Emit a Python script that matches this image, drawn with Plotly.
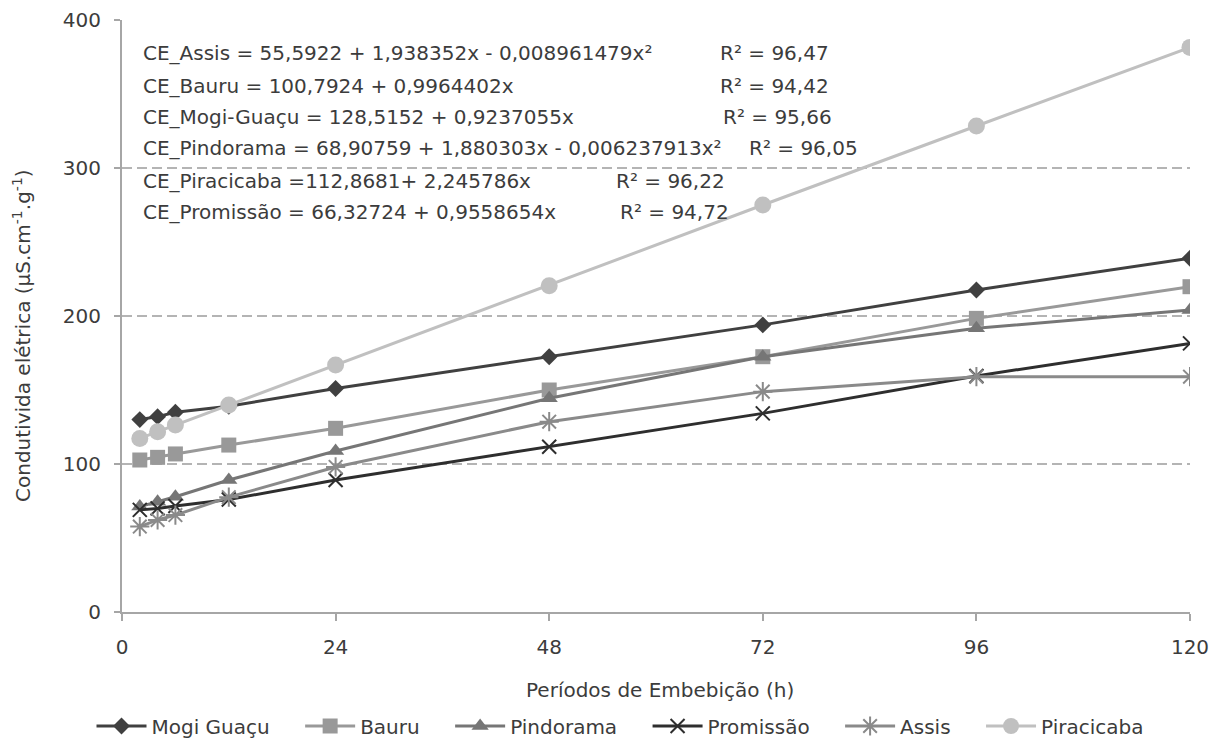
import plotly.graph_objects as go

hours = [2, 4, 6, 12, 24, 48, 72, 96, 120]
mogi_guacu = [130, 132, 135, 139, 151, 172.5, 194, 217.6, 239]
bauru = [102.7, 104.5, 106.8, 112.8, 124.1, 150, 172.5, 198.4, 219.8]
pindorama = [71.2, 74.5, 77.9, 89.2, 108.8, 144.4, 172.5, 191.7, 204]
promissao = [69, 70, 71.6, 76, 89.2, 111.7, 134.2, 159.5, 181.5]
assis = [57.7, 62.2, 65.5, 77.6, 98, 128.6, 148.9, 159, 159]
piracicaba = [117.3, 121.8, 126.3, 139.9, 166.9, 220.5, 275, 328.4, 381.5]

x_ticks = [0, 24, 48, 72, 96, 120]
y_ticks = [0, 100, 200, 300, 400]

series = [
    ("Mogi Guaçu", mogi_guacu, "#404040", "diamond", 13),
    ("Bauru", bauru, "#999999", "square", 15),
    ("Pindorama", pindorama, "#767676", "triangle-up", 15),
    ("Promissão", promissao, "#2e2e2e", "x-thin-open", 14),
    ("Assis", assis, "#8a8a8a", "asterisk-open", 16),
    ("Piracicaba", piracicaba, "#c0c0c0", "circle", 17),
]

equations = [
    "CE_Assis = 55,5922 + 1,938352x - 0,008961479x²",
    "CE_Bauru = 100,7924 + 0,9964402x",
    "CE_Mogi-Guaçu = 128,5152 + 0,9237055x",
    "CE_Pindorama = 68,90759 + 1,880303x - 0,006237913x²",
    "CE_Piracicaba =112,8681+ 2,245786x",
    "CE_Promissão = 66,32724 + 0,9558654x",
]
r2_labels = ["R² = 96,47", "R² = 94,42", "R² = 95,66", "R² = 96,05", "R² = 96,22", "R² = 94,72"]
r2_px = [718, 718, 721, 747, 614, 618]
line_py = [53, 86, 117, 148, 181, 212]

FONT = "DejaVu Sans, Verdana, sans-serif"
TXT = "#3c3c3c"
W, H = 1228, 740
L, R, T, B = 122, 1190, 20, 612


def px_x(p):
    return (p - L) / (R - L)


def px_y(p):
    return (B - p) / (B - T)


fig = go.Figure()
pad = "\u00a0" * 4
for i, (name, vals, color, sym, size) in enumerate(series):
    mk = dict(symbol=sym, size=size, color=color)
    if "open" in sym:
        mk["line"] = dict(color=color, width=2)
    else:
        mk["line"] = dict(width=0)
    label = name + (pad if i < len(series) - 1 else "")
    fig.add_trace(go.Scatter(x=hours, y=vals, name=label, mode="lines+markers",
                             line=dict(color=color, width=3), marker=mk))

annotations = []
for eq, r2, rx, py in zip(equations, r2_labels, r2_px, line_py):
    annotations.append(dict(text=eq, x=px_x(141), y=px_y(py), xref="paper", yref="paper",
                            xanchor="left", yanchor="middle", showarrow=False,
                            font=dict(size=20, color=TXT, family=FONT)))
    annotations.append(dict(text=r2, x=px_x(rx), y=px_y(py), xref="paper", yref="paper",
                            xanchor="left", yanchor="middle", showarrow=False,
                            font=dict(size=20, color=TXT, family=FONT)))

annotations.append(dict(text="Períodos de Embebição (h)", x=px_x(660), y=px_y(690),
                        xref="paper", yref="paper", xanchor="center", yanchor="middle",
                        showarrow=False, font=dict(size=20, color=TXT, family=FONT)))
annotations.append(dict(text="Condutivida elétrica (µS.cm<sup>-1</sup>.g<sup>-1</sup>)",
                        x=px_x(22), y=px_y(336), xref="paper", yref="paper",
                        xanchor="center", yanchor="middle", textangle=-90,
                        showarrow=False, font=dict(size=20, color=TXT, family=FONT)))

fig.update_layout(
    width=W, height=H,
    margin=dict(l=L, r=W - R, t=T, b=H - B, autoexpand=False),
    plot_bgcolor="white", paper_bgcolor="white",
    font=dict(family=FONT, size=20, color=TXT),
    xaxis=dict(range=[0, 120], tickvals=x_ticks, showgrid=False,
               showline=True, linecolor="#a6a6a6", linewidth=2, ticks="outside",
               tickcolor="#a6a6a6", ticklen=7, tickwidth=1.5, zeroline=False,
               ticklabelstandoff=9, tickfont=dict(size=20, color=TXT)),
    yaxis=dict(range=[0, 400], tickvals=y_ticks, showgrid=True,
               gridcolor="#b4b4b4", griddash="10px,5px", gridwidth=2,
               showline=True, linecolor="#a6a6a6", linewidth=2, ticks="outside",
               tickcolor="#a6a6a6", ticklen=6, tickwidth=1.5, zeroline=False,
               ticklabelstandoff=9, tickfont=dict(size=20, color=TXT)),
    legend=dict(orientation="h", xref="container", yref="container",
                x=620 / W, xanchor="center", y=(H - 726) / H, yanchor="middle",
                font=dict(size=20, color=TXT, family=FONT), itemwidth=50),
    annotations=annotations,
    showlegend=True,
)
fig.write_html("out.html")
